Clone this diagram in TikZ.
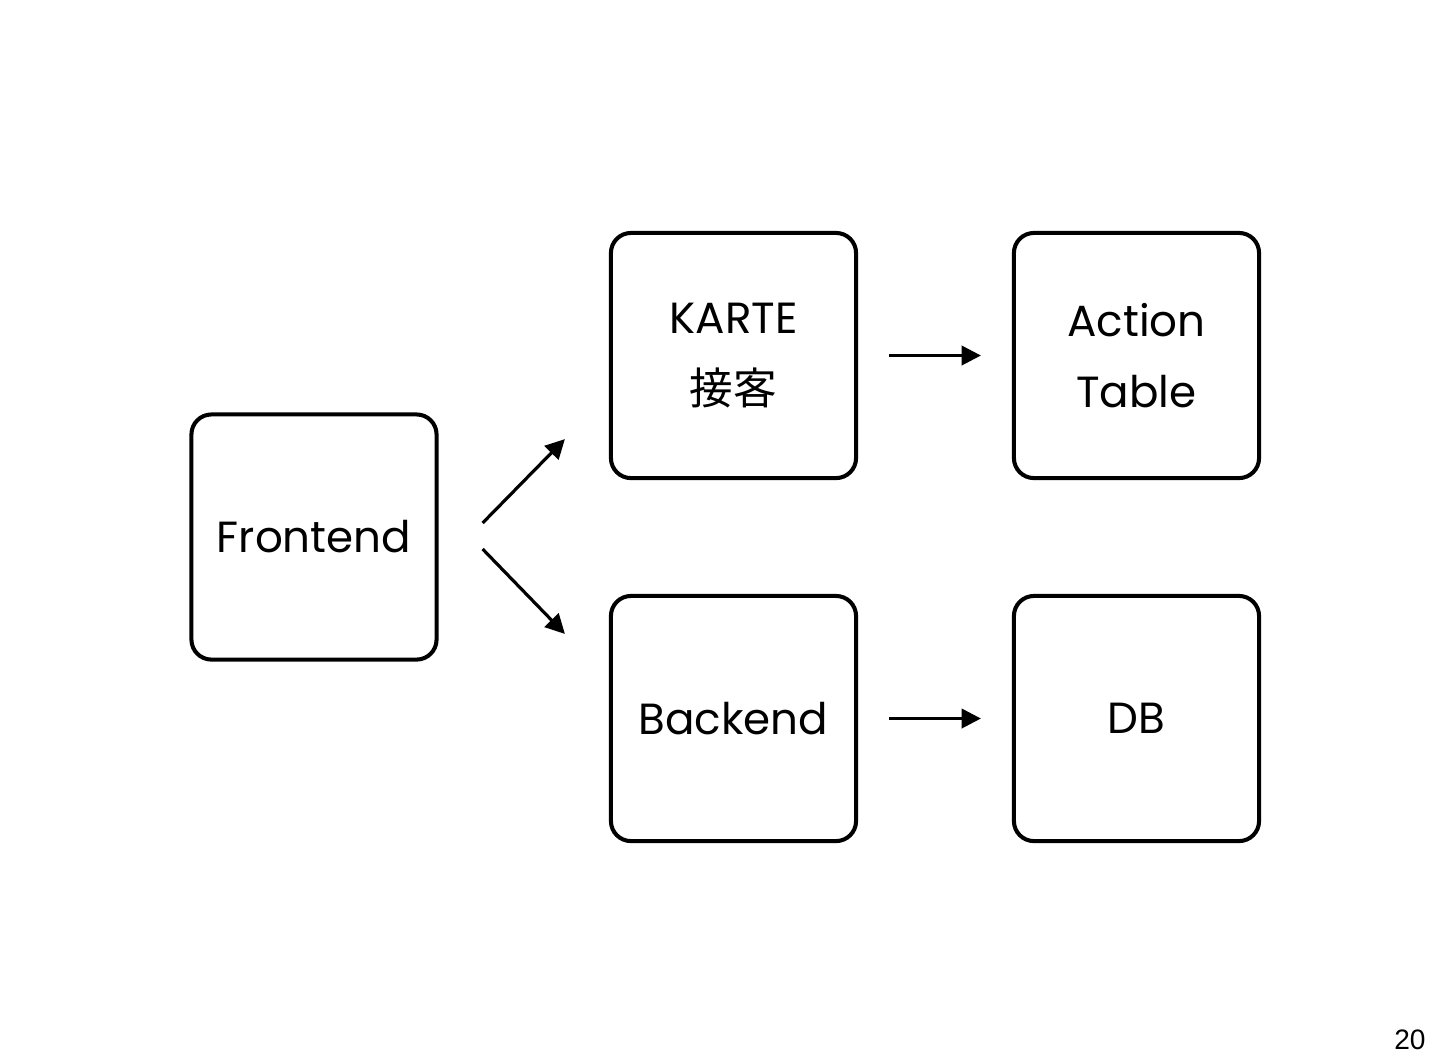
\documentclass[tikz,border=0pt]{standalone}
\usepackage{fontspec}
\setmainfont{Poppins}
\newfontfamily\cjkfont{Noto Sans CJK JP}
\newfontfamily\numfont{Liberation Sans}
\usetikzlibrary{arrows.meta,calc}
\begin{document}
\begin{tikzpicture}[x=0.01cm,y=-0.01cm,
  box/.style={draw=black,line width=1.15pt,rounded corners=0.2cm,minimum width=2.45cm,minimum height=2.45cm,inner sep=0pt,font=\fontsize{12.4}{20}\selectfont,align=center},
  conn/.style={line width=0.9pt,-{Triangle[length=5.5pt,width=5.5pt]}}]
\useasboundingbox (0,0) rectangle (1435,1062);
\fill[white] (0,0) rectangle (1435,1062);
\node[box] (fe) at (314,537) {Frontend};
\node[box] (karte) at (733.5,355.5) {KARTE\\{\cjkfont 接客}};
\node[box] (act) at (1136.5,355.5) {Action\\Table};
\node[box] (be) at (733.5,718.5) {Backend};
\node[box] (db) at (1136.5,718.5) {DB};
\draw[conn] ($(fe.east)+(44,-14)$) -- ($(karte.south west)+(-44,-41)$);
\draw[conn] ($(fe.east)+(44,12)$) -- ($(be.north west)+(-44,40)$);
\draw[conn] ($(karte.east)+(31,0)$) -- ($(act.west)+(-31,0)$);
\draw[conn] ($(be.east)+(31,0)$) -- ($(db.west)+(-31,0)$);
\node[font=\numfont\fontsize{8}{9}\selectfont] (pg) at (1410,1040) {20};
\end{tikzpicture}
\end{document}
